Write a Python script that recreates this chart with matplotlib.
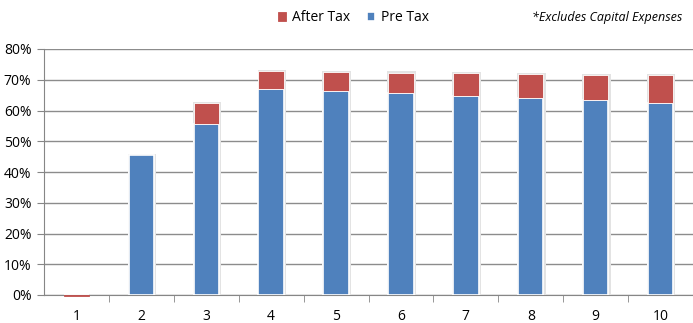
import matplotlib.pyplot as plt
import numpy as np

plt.rcParams['font.family'] = ['Open Sans', 'DejaVu Sans']

# data
years = [1, 2, 3, 4, 5, 6, 7, 8, 9, 10]
pre_tax = [0.0, 45.5, 55.6, 67.1, 66.3, 65.6, 64.7, 64.0, 63.3, 62.5]
after_tax = [-0.4, 0.0, 6.8, 5.7, 6.3, 6.7, 7.4, 7.8, 8.2, 8.9]
yticks = [0, 10, 20, 30, 40, 50, 60, 70, 80]

blue = '#4f81bd'
red = '#c0504d'

fig = plt.figure(figsize=(6.93, 3.23), dpi=100)
ax = fig.add_axes([44 / 693, 28 / 323, 649 / 693, 246 / 323])

x = np.array(years)
w = 0.39
# faint shadow around the bars
tops = [p + a if a > 0 else p for p, a in zip(pre_tax, after_tax)]
ax.bar(x + 0.01, [t + 0.4 if t > 0 else 0 for t in tops], w + 0.05, color='#e3e3e3', zorder=2)
ax.bar(x, pre_tax, w, color=blue, edgecolor='white', linewidth=1.2, zorder=3, label='Pre Tax')
red_edges = ['white' if a > 0 else (red if a < 0 else 'none') for a in after_tax]
ax.bar(x, after_tax, w, bottom=pre_tax, color=red, edgecolor=red_edges, linewidth=0.6,
       zorder=4, label='After Tax', clip_on=False)

ax.set_xlim(0.5, 10.5)
ax.set_ylim(0, 80)
ax.set_yticks(yticks)
ax.set_yticklabels([f'{v}%' for v in yticks])
ax.set_xticks(x)
ax.set_xticklabels([str(v) for v in years])
ax.set_xticks(np.arange(1.5, 10.5, 1), minor=True)
ax.tick_params(axis='x', which='major', length=0, pad=10, labelsize=10)
ax.tick_params(axis='x', which='minor', length=5, color='#868686', direction='out')
ax.tick_params(axis='y', length=5, color='#868686', labelsize=10, pad=4)
ax.grid(axis='y', color='#8c8c8c', linewidth=1, zorder=0)
for s in ['top', 'right']:
    ax.spines[s].set_visible(False)
ax.spines['left'].set_color('#868686')
ax.spines['bottom'].set_color('#868686')
ax.spines['bottom'].set_zorder(1)
ax.set_axisbelow(True)

h, l = ax.get_legend_handles_labels()
fig.legend([h[1], h[0]], [l[1], l[0]], loc='center', bbox_to_anchor=(0.51, 0.945),
           ncol=2, frameon=False, fontsize=10, handlelength=0.6, handleheight=0.6,
           columnspacing=1.2, handletextpad=0.4)
fig.text(0.985, 0.945, '*Excludes Capital Expenses', ha='right', va='center',
         fontsize=9, style='italic')

fig.savefig('out.png', dpi=100)
